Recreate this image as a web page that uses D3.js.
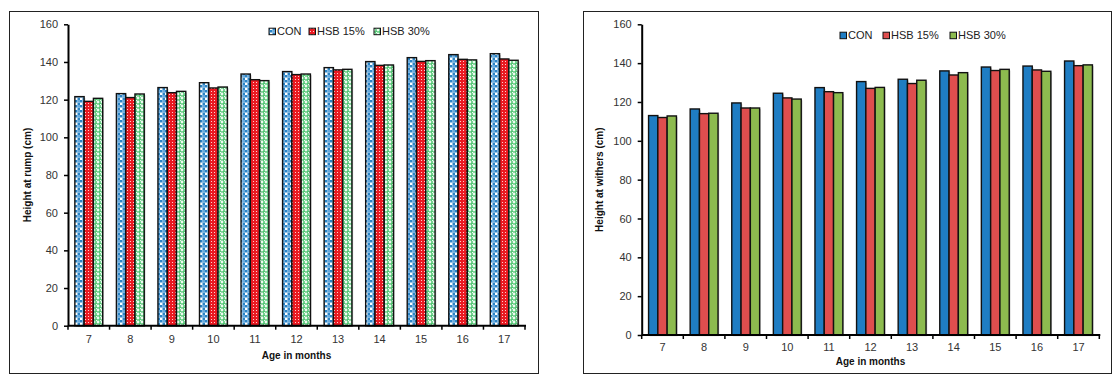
<!DOCTYPE html>
<html>
<head>
<meta charset="utf-8">
<script src="https://cdn.jsdelivr.net/npm/d3@7"></script>
<style>
  html, body { margin: 0; padding: 0; background: #fff; }
  svg { display: block; font-family: Arial, "Liberation Sans", sans-serif; }
</style>
</head>
<body>
<svg id="chart" width="1112" height="374"></svg>
<script>
// ---- data ----
const ages = ["7", "8", "9", "10", "11", "12", "13", "14", "15", "16", "17"];
const seriesNames = ["CON", "HSB 15%", "HSB 30%"];
const yTicks = [0, 20, 40, 60, 80, 100, 120, 140, 160];

// Height at rump (cm)
const rumpCON   = [121.6, 123.2, 126.4, 129.0, 133.6, 134.9, 137.0, 140.2, 142.3, 143.9, 144.4];
const rumpHSB15 = [119.1, 121.1, 123.7, 126.2, 130.6, 133.3, 135.8, 138.2, 140.3, 141.4, 141.6];
const rumpHSB30 = [120.7, 123.0, 124.4, 126.7, 130.1, 133.6, 136.1, 138.4, 140.7, 141.1, 140.9];

// Height at withers (cm)
const withCON   = [113.0, 116.4, 119.5, 124.5, 127.4, 130.5, 131.7, 136.0, 138.0, 138.5, 141.1];
const withHSB15 = [112.0, 114.0, 116.9, 122.1, 125.3, 127.0, 129.5, 133.9, 136.2, 136.5, 138.7];
const withHSB30 = [112.8, 114.2, 116.9, 121.5, 124.8, 127.5, 131.2, 135.1, 136.8, 135.8, 139.1];

const svg = d3.select("#chart");
const defs = svg.append("defs");

// patterns for the left chart
const pBlue = defs.append("pattern").attr("id", "pBlue").attr("patternUnits", "userSpaceOnUse")
  .attr("width", 5).attr("height", 5);
pBlue.append("rect").attr("width", 5).attr("height", 5).attr("fill", "#ffffff");
pBlue.append("rect").attr("x", 0).attr("y", 0).attr("width", 2.5).attr("height", 2.5).attr("fill", "#2a84c6");
pBlue.append("rect").attr("x", 2.5).attr("y", 2.5).attr("width", 2.5).attr("height", 2.5).attr("fill", "#2a84c6");
pBlue.append("rect").attr("x", 2.5).attr("y", 0).attr("width", 2.5).attr("height", 2.5).attr("fill", "#6aaadc");

const pRed = defs.append("pattern").attr("id", "pRed").attr("patternUnits", "userSpaceOnUse")
  .attr("width", 3).attr("height", 3);
pRed.append("rect").attr("width", 3).attr("height", 3).attr("fill", "#ea1a22");
pRed.append("rect").attr("x", 1).attr("y", 1).attr("width", 1).attr("height", 1).attr("fill", "#ffd0d0");

const pGreen = defs.append("pattern").attr("id", "pGreen").attr("patternUnits", "userSpaceOnUse")
  .attr("width", 4).attr("height", 4);
pGreen.append("rect").attr("width", 4).attr("height", 4).attr("fill", "#52c674");
pGreen.append("circle").attr("cx", 2).attr("cy", 2).attr("r", 1.4).attr("fill", "#eefaf1");
pGreen.append("rect").attr("x", 0).attr("y", 0).attr("width", 1).attr("height", 1).attr("fill", "#eefaf1");

function drawPanel(cfg) {
  const g = svg.append("g");
  // frame
  g.append("rect").attr("x", cfg.frame[0] + 0.5).attr("y", cfg.frame[1] + 0.5)
    .attr("width", cfg.frame[2]).attr("height", cfg.frame[3])
    .attr("fill", "none").attr("stroke", "#222").attr("stroke-width", 1);

  const x0 = d3.scaleBand().domain(cfg.cats).range([cfg.xl, cfg.xr]).paddingInner(0.33).paddingOuter(0.165);
  const x1 = d3.scaleBand().domain(cfg.names).range([0, x0.bandwidth()]);
  const y = d3.scaleLinear().domain([0, 160]).range([cfg.y0, cfg.y160]);

  // bar shadows
  cfg.series.forEach((vals, si) => {
    g.append("g").selectAll("rect").data(vals).join("rect")
      .attr("x", (d, i) => x0(cfg.cats[i]) + x1(cfg.names[si]) + 1.2)
      .attr("y", d => y(d) + 1.2)
      .attr("width", x1.bandwidth())
      .attr("height", d => y(0) - y(d))
      .attr("fill", "#c8c8c8");
  });
  // bars
  cfg.series.forEach((vals, si) => {
    g.append("g").selectAll("rect").data(vals).join("rect")
      .attr("x", (d, i) => x0(cfg.cats[i]) + x1(cfg.names[si]))
      .attr("y", d => y(d))
      .attr("width", x1.bandwidth())
      .attr("height", d => y(0) - y(d))
      .attr("fill", cfg.fills[si])
      .attr("stroke", "#111").attr("stroke-width", 1.4);
  });

  // y axis
  const ya = g.append("g").attr("transform", `translate(${cfg.xl},0)`)
    .call(d3.axisLeft(y).tickValues(yTicks).tickSize(4).tickSizeOuter(0).tickPadding(6));
  ya.select(".domain").attr("stroke", "#000").attr("stroke-width", 2);
  ya.selectAll(".tick line").attr("stroke", "#000").attr("stroke-width", 1.5);
  ya.selectAll(".tick text").attr("font-size", 11).attr("fill", "#333")
    .attr("font-family", "Arial, 'Liberation Sans', sans-serif");

  // x axis (ticks at category boundaries)
  const xa = g.append("g").attr("transform", `translate(0,${cfg.y0})`);
  xa.append("line").attr("x1", cfg.xl).attr("x2", cfg.xr + 1).attr("y1", 0).attr("y2", 0)
    .attr("stroke", "#000").attr("stroke-width", 2);
  const step = x0.step();
  const bounds = d3.range(cfg.cats.length + 1).map(i => cfg.xl + i * step);
  xa.selectAll("line.tk").data(bounds).join("line")
    .attr("x1", d => d).attr("x2", d => d).attr("y1", 0).attr("y2", 4)
    .attr("stroke", "#000").attr("stroke-width", 1.5);
  xa.selectAll("text").data(cfg.cats).join("text")
    .attr("x", d => x0(d) + x0.bandwidth() / 2)
    .attr("y", cfg.tickLabelY - cfg.y0)
    .attr("text-anchor", "middle").attr("dominant-baseline", "middle")
    .attr("font-size", 11).attr("fill", "#333").text(d => d);

  // axis titles
  g.append("text").attr("x", (cfg.xl + cfg.xr) / 2).attr("y", cfg.xTitleY)
    .attr("text-anchor", "middle").attr("dominant-baseline", "middle")
    .attr("font-size", 10).attr("font-weight", "bold").attr("fill", "#111").text("Age in months");
  g.append("text").attr("transform", `translate(${cfg.yTitleX},${(cfg.y0 + cfg.y160) / 2}) rotate(-90)`)
    .attr("text-anchor", "middle").attr("dominant-baseline", "middle")
    .attr("font-size", 10).attr("font-weight", "bold").attr("fill", "#111").text(cfg.yTitle);

  // legend
  const lg = g.append("g");
  cfg.names.forEach((n, i) => {
    const lx = cfg.legendX[i];
    lg.append("rect").attr("x", lx).attr("y", cfg.legendY - 3.5).attr("width", 6.5).attr("height", 6.5)
      .attr("fill", cfg.fills[i]).attr("stroke", "#111").attr("stroke-width", 1);
    lg.append("text").attr("x", lx + 8).attr("y", cfg.legendY)
      .attr("dominant-baseline", "middle").attr("font-size", 11).attr("fill", "#222").text(n);
  });
}

drawPanel({
  frame: [9, 11, 529, 362],
  xl: 68, xr: 525, y0: 325.7, y160: 24.3,
  tickLabelY: 340, xTitleY: 356, yTitleX: 28,
  yTitle: "Height at rump (cm)",
  cats: ages, names: seriesNames,
  series: [rumpCON, rumpHSB15, rumpHSB30],
  fills: ["url(#pBlue)", "url(#pRed)", "url(#pGreen)"],
  legendX: [269, 309, 374], legendY: 31.7
});

drawPanel({
  frame: [583, 11, 528, 362],
  xl: 641.7, xr: 1099.3, y0: 335, y160: 24.3,
  tickLabelY: 348, xTitleY: 362.5, yTitleX: 600,
  yTitle: "Height at withers (cm)",
  cats: ages, names: seriesNames,
  series: [withCON, withHSB15, withHSB30],
  fills: ["#1f7dc3", "#df4e4e", "#8dbb4f"],
  legendX: [840, 883, 950], legendY: 35.7
});
</script>
</body>
</html>
